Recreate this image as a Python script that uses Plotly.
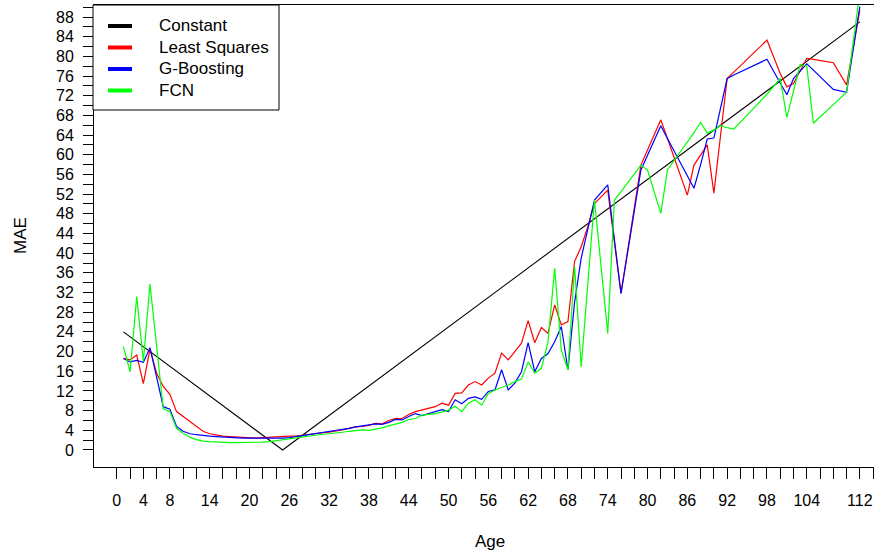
import plotly.graph_objects as go

ages = list(range(1, 73)) + [74, 75, 76, 79, 80, 82, 83, 86, 87, 88, 89, 90, 91, 92, 93,
                            98, 100, 101, 102, 103, 104, 105, 108, 110, 112]

least_squares = [18.6, 18.3, 19.3, 13.5, 20.5, 15.6, 12.9, 11.3, 7.8, 6.8,
                 5.7, 4.7, 3.8, 3.3, 3.0, 2.8, 2.7, 2.6, 2.5, 2.5,
                 2.4, 2.5, 2.6, 2.6, 2.7, 2.8, 2.8, 3.0, 3.1, 3.3,
                 3.5, 3.6, 3.8, 4.1, 4.4, 4.7, 4.8, 5.0, 5.4, 5.3,
                 6.0, 6.4, 6.4, 7.2, 7.8, 8.1, 8.4, 8.8, 9.5, 9.1,
                 11.5, 11.6, 13.2, 13.9, 13.2, 14.6, 15.6, 19.7, 18.3, 19.9,
                 21.7, 26.3, 21.8, 24.9, 23.7, 29.5, 25.4, 26.1, 38.3, 41.3,
                 45.4, 50.1, 52.8, 42.3, 31.8, 57.9, 61.0, 67.1, 63.3, 51.8,
                 57.9, 60.0, 62.0, 52.2, 63.8, 75.5, 76.8, 83.3, 76.5, 73.8,
                 74.5, 77.0, 79.6, 79.4, 78.7, 74.2, 89.4]

g_boosting = [18.6, 17.9, 18.2, 17.8, 20.8, 14.8, 8.8, 8.3, 4.8, 3.8,
              3.3, 3.1, 2.9, 2.8, 2.7, 2.6, 2.5, 2.5, 2.4, 2.4,
              2.4, 2.3, 2.3, 2.4, 2.4, 2.5, 2.7, 2.9, 3.1, 3.3,
              3.6, 3.7, 3.9, 4.1, 4.4, 4.7, 4.9, 5.0, 5.3, 5.2,
              5.6, 6.2, 6.1, 6.8, 7.4, 7.0, 7.4, 7.8, 8.2, 7.8,
              10.2, 9.4, 10.5, 10.8, 10.3, 11.9, 12.2, 16.3, 12.2, 13.6,
              15.9, 21.8, 15.9, 18.6, 19.6, 22.0, 25.1, 16.3, 30.0, 39.0,
              45.0, 50.8, 53.9, 42.9, 31.8, 56.9, 59.9, 65.9, 63.3, 55.5,
              53.2, 58.0, 63.2, 63.4, 69.5, 75.5, 76.2, 79.4, 74.6, 72.2,
              75.5, 77.0, 78.5, 77.2, 73.3, 72.7, 90.1]

fcn = [21.0, 15.9, 31.2, 18.0, 33.7, 20.5, 8.4, 7.8, 4.4, 3.4,
       2.6, 2.1, 1.8, 1.7, 1.6, 1.5, 1.5, 1.5, 1.5, 1.5,
       1.6, 1.6, 1.7, 1.9, 2.0, 2.2, 2.4, 2.6, 2.8, 3.0,
       3.2, 3.3, 3.4, 3.6, 3.8, 3.9, 4.1, 4.0, 4.2, 4.5,
       4.9, 5.2, 5.6, 6.2, 6.4, 7.1, 7.2, 7.4, 7.7, 8.1,
       8.9, 7.8, 9.5, 10.2, 9.1, 11.5, 12.2, 12.7, 13.2, 13.9,
       14.4, 17.9, 15.6, 16.6, 22.0, 36.9, 20.3, 16.3, 37.3, 16.9,
       34.0, 50.8, 23.7, 50.8, 52.5, 57.9, 56.9, 48.1, 56.9, 62.5,
       64.5, 66.6, 64.4, 65.0, 65.9, 65.5, 65.2, 72.3, 75.5, 67.6,
       73.0, 78.3, 78.0, 66.4, 70.2, 72.7, 93.0]

constant = [abs(a - 25) for a in ages]

series_names = ["Constant", "Least Squares", "G-Boosting", "FCN"]
series_colors = ["#000000", "#FF0000", "#0000FF", "#00FF00"]
series_values = [constant, least_squares, g_boosting, fcn]

x_tick_vals = list(range(0, 116, 2))
x_tick_labels = [0, 4, 8, 14, 20, 26, 32, 38, 44, 50, 56, 62, 68, 74, 80, 86, 92, 98, 104, 112]
y_tick_vals = list(range(0, 92, 2))
y_tick_labels = list(range(0, 89, 4))

FONT = "Liberation Sans, Arial, Helvetica, sans-serif"

fig = go.Figure()
for name, color, vals in zip(series_names, series_colors, series_values):
    fig.add_trace(go.Scatter(
        x=ages, y=vals, mode="lines", name=name, showlegend=False,
        line=dict(color=color, width=1.1 if name == "Constant" else 1.2),
    ))

x_text = [str(v) if v in x_tick_labels else "" for v in x_tick_vals]
y_text = [str(v) if v in y_tick_labels else "" for v in y_tick_vals]

L, T, B = 94, 5, 85
W, H = 874, 552
pw = W - L
ph = H - T - B
xmin = -3.44
xmax = xmin + pw / 6.634
ymin, ymax = -3.46, 90.44

fig.update_layout(
    width=W, height=H,
    margin=dict(l=L, r=0, t=T, b=B, pad=0),
    paper_bgcolor="white", plot_bgcolor="white",
    font=dict(family=FONT, size=16, color="black"),
    xaxis=dict(
        range=[xmin, xmax], tickmode="array", tickvals=x_tick_vals, ticktext=x_text,
        ticks="outside", ticklen=11, tickwidth=1, tickcolor="black",
        showline=True, linecolor="black", linewidth=1, mirror=True,
        showgrid=False, zeroline=False, ticklabelstandoff=8,
        tickfont=dict(family=FONT, size=16, color="black"),
    ),
    yaxis=dict(
        range=[ymin, ymax], tickmode="array", tickvals=y_tick_vals, ticktext=y_text,
        ticks="outside", ticklen=10, tickwidth=1, tickcolor="black",
        showline=True, linecolor="black", linewidth=1, mirror=False,
        showgrid=False, zeroline=False, ticklabelstandoff=6,
        tickfont=dict(family=FONT, size=16, color="black"),
    ),
)

def px_x(p):
    return (p - L) / pw

def px_y(p):
    return (H - B - p) / ph

annotations = [
    dict(text="Age", x=px_x(490), y=px_y(541), xref="paper", yref="paper",
         showarrow=False, xanchor="center", yanchor="middle",
         font=dict(family=FONT, size=17, color="black")),
    dict(text="MAE", x=px_x(20), y=px_y(236), xref="paper", yref="paper",
         showarrow=False, xanchor="center", yanchor="middle", textangle=-90,
         font=dict(family=FONT, size=17, color="black")),
]
shapes = [
    dict(type="rect", xref="paper", yref="paper",
         x0=px_x(93), x1=px_x(279), y0=px_y(110), y1=px_y(5),
         line=dict(color="black", width=1), fillcolor="white", layer="above"),
]
row_y = [26, 47.5, 69, 90.5]
for name, color, ry in zip(series_names, series_colors, row_y):
    shapes.append(dict(type="line", xref="paper", yref="paper",
                       x0=px_x(108), x1=px_x(132), y0=px_y(ry), y1=px_y(ry),
                       line=dict(color=color, width=4), layer="above"))
    annotations.append(dict(text=name, x=px_x(157), y=px_y(ry), xref="paper", yref="paper",
                            showarrow=False, xanchor="left", yanchor="middle",
                            font=dict(family=FONT, size=17, color="black")))

fig.update_layout(shapes=shapes, annotations=annotations)
fig.write_html("out.html",
               config={"displayModeBar": False, "staticPlot": True},
               post_script="document.body.style.margin='0';document.body.style.overflow='hidden';")
